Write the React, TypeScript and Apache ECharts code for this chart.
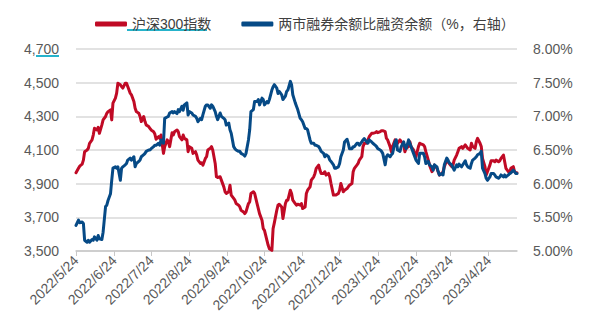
import React, { useEffect, useRef } from "react";
import * as echarts from "echarts";

const seriesNames = ["沪深300指数", "两市融券余额比融资余额（%，右轴）"];
const axisStart = "2022/5/24";
const axisEnd = "2023/5/17";
const leftTicks = [3500, 3700, 3900, 4100, 4300, 4500, 4700];
const rightTicks = [5, 5.5, 6, 6.5, 7, 7.5, 8];

const dates = [
  "2022/5/24", "2022/5/26", "2022/5/27", "2022/5/29", "2022/5/30", "2022/5/31",
  "2022/6/2", "2022/6/3", "2022/6/4", "2022/6/6", "2022/6/7", "2022/6/8", "2022/6/10", "2022/6/11", "2022/6/12", "2022/6/14", "2022/6/15", "2022/6/17", "2022/6/18", "2022/6/19", "2022/6/21", "2022/6/22", "2022/6/23", "2022/6/25", "2022/6/26", "2022/6/27", "2022/6/29", "2022/6/30",
  "2022/7/1", "2022/7/3", "2022/7/4", "2022/7/5", "2022/7/7", "2022/7/8", "2022/7/10", "2022/7/11", "2022/7/12", "2022/7/14", "2022/7/15", "2022/7/16", "2022/7/18", "2022/7/19", "2022/7/20", "2022/7/22", "2022/7/23", "2022/7/24", "2022/7/26", "2022/7/27", "2022/7/28", "2022/7/30", "2022/7/31",
  "2022/8/1", "2022/8/3", "2022/8/4", "2022/8/6", "2022/8/7", "2022/8/8", "2022/8/10", "2022/8/11", "2022/8/12", "2022/8/14", "2022/8/15", "2022/8/16", "2022/8/18", "2022/8/19", "2022/8/20", "2022/8/22", "2022/8/23", "2022/8/24", "2022/8/26", "2022/8/27", "2022/8/29", "2022/8/30", "2022/8/31",
  "2022/9/2", "2022/9/3", "2022/9/4", "2022/9/6", "2022/9/7", "2022/9/8", "2022/9/10", "2022/9/11", "2022/9/12", "2022/9/14", "2022/9/15", "2022/9/16", "2022/9/18", "2022/9/19", "2022/9/21", "2022/9/22", "2022/9/23", "2022/9/25", "2022/9/26", "2022/9/27", "2022/9/29", "2022/9/30",
  "2022/10/1", "2022/10/3", "2022/10/4", "2022/10/5", "2022/10/7", "2022/10/8", "2022/10/9", "2022/10/11", "2022/10/12", "2022/10/13", "2022/10/15", "2022/10/16", "2022/10/18", "2022/10/19", "2022/10/20", "2022/10/22", "2022/10/23", "2022/10/24", "2022/10/26", "2022/10/27", "2022/10/28", "2022/10/30", "2022/10/31",
  "2022/11/1", "2022/11/3", "2022/11/4", "2022/11/5", "2022/11/7", "2022/11/8", "2022/11/10", "2022/11/11", "2022/11/12", "2022/11/14", "2022/11/15", "2022/11/16", "2022/11/18", "2022/11/19", "2022/11/20", "2022/11/22", "2022/11/23", "2022/11/24", "2022/11/26", "2022/11/27", "2022/11/28", "2022/11/30",
  "2022/12/1", "2022/12/3", "2022/12/4", "2022/12/5", "2022/12/7", "2022/12/8", "2022/12/9", "2022/12/11", "2022/12/12", "2022/12/13", "2022/12/15", "2022/12/16", "2022/12/17", "2022/12/19", "2022/12/20", "2022/12/21", "2022/12/23", "2022/12/24", "2022/12/25", "2022/12/27", "2022/12/28", "2022/12/30", "2022/12/31",
  "2023/1/1", "2023/1/3", "2023/1/4", "2023/1/5", "2023/1/7", "2023/1/8", "2023/1/9", "2023/1/11", "2023/1/12", "2023/1/13", "2023/1/15", "2023/1/16", "2023/1/17", "2023/1/19", "2023/1/20", "2023/1/22", "2023/1/23", "2023/1/24", "2023/1/26", "2023/1/27", "2023/1/28", "2023/1/30", "2023/1/31",
  "2023/2/1", "2023/2/3", "2023/2/4", "2023/2/5", "2023/2/7", "2023/2/8", "2023/2/9", "2023/2/11", "2023/2/12", "2023/2/14", "2023/2/15", "2023/2/16", "2023/2/18", "2023/2/19", "2023/2/20", "2023/2/22", "2023/2/23", "2023/2/24", "2023/2/26", "2023/2/27", "2023/2/28",
  "2023/3/2", "2023/3/3", "2023/3/4", "2023/3/6", "2023/3/7", "2023/3/9", "2023/3/10", "2023/3/11", "2023/3/13", "2023/3/14", "2023/3/15", "2023/3/17", "2023/3/18", "2023/3/19", "2023/3/21", "2023/3/22", "2023/3/23", "2023/3/25", "2023/3/26", "2023/3/27", "2023/3/29", "2023/3/30", "2023/3/31",
  "2023/4/2", "2023/4/3", "2023/4/5", "2023/4/6", "2023/4/7", "2023/4/9", "2023/4/10", "2023/4/11", "2023/4/13", "2023/4/14", "2023/4/15", "2023/4/17", "2023/4/18", "2023/4/19", "2023/4/21", "2023/4/22", "2023/4/23", "2023/4/25", "2023/4/26", "2023/4/28", "2023/4/29", "2023/4/30",
  "2023/5/2", "2023/5/3", "2023/5/4", "2023/5/6", "2023/5/7", "2023/5/8", "2023/5/10", "2023/5/11", "2023/5/12", "2023/5/14", "2023/5/15", "2023/5/16", "2023/5/17",
];

const csi300 = [
  3965, 3991, 4004, 4016, 4040, 4090,
  4100, 4110, 4140, 4160, 4189, 4229, 4219, 4235, 4199, 4249, 4279, 4299, 4318, 4328, 4338, 4279, 4378, 4408, 4438, 4497, 4487, 4477,
  4468, 4497, 4497, 4477, 4438, 4428, 4388, 4348, 4328, 4318, 4299, 4269, 4299, 4269, 4249, 4239, 4229, 4219, 4209, 4195, 4164, 4179, 4169,
  4189, 4080, 4120, 4160, 4150, 4120, 4203, 4189, 4209, 4219, 4209, 4179, 4160, 4189, 4169, 4160, 4090, 4120, 4110, 4080, 4090, 4070, 4040,
  4020, 4024, 4010, 4050, 4060, 4100, 4110, 4120, 4100, 4020, 3941, 3937, 3941, 3921, 3881, 3852, 3842, 3852, 3891, 3832, 3812, 3802,
  3782, 3772, 3762, 3742, 3732, 3722, 3732, 3782, 3792, 3842, 3852, 3842, 3782, 3752, 3722, 3683, 3633, 3623, 3563, 3534, 3514, 3504, 3633,
  3667, 3742, 3772, 3778, 3762, 3693, 3782, 3802, 3802, 3861, 3842, 3802, 3782, 3772, 3778, 3772, 3782, 3752, 3762, 3842, 3861, 3881,
  3921, 3941, 3961, 3991, 4010, 3981, 3961, 3961, 3971, 3951, 3961, 3941, 3901, 3832, 3832, 3832, 3842, 3861, 3901, 3852, 3861, 3871, 3881,
  3891, 3901, 3971, 3991, 4010, 4020, 4040, 4060, 4120, 4140, 4140, 4160, 4179, 4199, 4199, 4203, 4209, 4203, 4209, 4215, 4215, 4209, 4169,
  4160, 4120, 4090, 4120, 4160, 4150, 4140, 4160, 4150, 4130, 4090, 4110, 4120, 4150, 4120, 4100, 4080, 4060, 4120, 4140, 4136,
  4130, 4120, 4090, 4040, 4010, 3971, 3991, 4010, 3991, 3971, 3951, 3961, 3971, 4001, 4040, 4030, 4020, 4001, 4010, 4040, 4070, 4090, 4110,
  4120, 4110, 4130, 4120, 4110, 4100, 4140, 4120, 4110, 4150, 4169, 4140, 4120, 4050, 4001, 3951, 3971, 4010, 4036, 4036, 4030, 4040,
  4030, 4036, 4050, 4070, 4030, 3991, 3971, 3961, 3991, 4001, 3971, 3965, 3965,
];

const ratio = [
  5.38, 5.46, 5.42, 5.43, 5.41, 5.16,
  5.13, 5.16, 5.13, 5.17, 5.16, 5.21, 5.16, 5.23, 5.18, 5.17, 5.28, 5.66, 5.68, 5.75, 5.85, 6.05, 6.23, 6.25, 6.23, 6.25, 6.05, 6.23,
  6.25, 6.28, 6.30, 6.35, 6.38, 6.35, 6.40, 6.25, 6.30, 6.33, 6.35, 6.40, 6.43, 6.45, 6.48, 6.50, 6.50, 6.52, 6.55, 6.57, 6.57, 6.60, 6.57,
  6.65, 6.60, 6.97, 6.99, 7.00, 7.05, 7.07, 7.05, 7.07, 7.04, 7.10, 7.07, 7.15, 7.09, 7.17, 7.20, 7.02, 7.07, 7.05, 7.02, 7.00, 6.97, 6.92,
  6.97, 6.95, 7.02, 7.15, 7.17, 7.17, 7.12, 7.17, 7.15, 7.07, 7.00, 6.95, 7.05, 7.00, 6.97, 6.95, 6.87, 6.90, 6.80, 6.75, 6.55, 6.52,
  6.50, 6.48, 6.48, 6.45, 6.43, 6.41, 6.45, 6.65, 6.80, 7.07, 7.10, 7.22, 7.22, 7.25, 7.17, 7.27, 7.25, 7.17, 7.22, 7.20, 7.25, 7.39, 7.44,
  7.47, 7.42, 7.34, 7.37, 7.32, 7.25, 7.30, 7.37, 7.39, 7.52, 7.47, 7.32, 7.20, 7.15, 7.10, 6.97, 6.95, 6.92, 6.82, 6.82, 6.80, 6.65,
  6.60, 6.60, 6.57, 6.57, 6.55, 6.52, 6.48, 6.45, 6.40, 6.43, 6.40, 6.35, 6.33, 6.28, 6.23, 6.23, 6.25, 6.30, 6.40, 6.50, 6.62, 6.66, 6.60,
  6.52, 6.52, 6.55, 6.55, 6.60, 6.60, 6.57, 6.62, 6.65, 6.67, 6.62, 6.60, 6.65, 6.62, 6.60, 6.57, 6.55, 6.52, 6.50, 6.48, 6.45, 6.28, 6.40,
  6.43, 6.40, 6.43, 6.45, 6.62, 6.65, 6.50, 6.48, 6.55, 6.62, 6.55, 6.52, 6.65, 6.60, 6.55, 6.45, 6.40, 6.35, 6.30, 6.45, 6.45,
  6.45, 6.40, 6.30, 6.33, 6.28, 6.25, 6.20, 6.28, 6.25, 6.18, 6.13, 6.15, 6.13, 6.28, 6.38, 6.35, 6.31, 6.28, 6.24, 6.20, 6.28, 6.25, 6.29,
  6.25, 6.28, 6.34, 6.28, 6.25, 6.23, 6.30, 6.35, 6.38, 6.40, 6.43, 6.45, 6.48, 6.23, 6.15, 6.08, 6.05, 6.10, 6.15, 6.15, 6.13, 6.10,
  6.08, 6.10, 6.13, 6.10, 6.13, 6.10, 6.13, 6.15, 6.16, 6.20, 6.18, 6.15, 6.15,
];

const RED = "#C00A25";
const BLUE = "#064A86";
const LABEL_FONT = "'Liberation Sans', Arial, sans-serif";
const LEGEND_FONT = "'Liberation Sans', 'Noto Sans CJK SC', sans-serif";

function buildDays(start: string, end: string): string[] {
  const [sy, sm, sd] = start.split("/").map(Number);
  const [ey, em, ed] = end.split("/").map(Number);
  const out: string[] = [];
  let t = Date.UTC(sy, sm - 1, sd);
  const tEnd = Date.UTC(ey, em - 1, ed);
  while (t <= tEnd) {
    const d = new Date(t);
    out.push(`${d.getUTCFullYear()}/${d.getUTCMonth() + 1}/${d.getUTCDate()}`);
    t += 86400000;
  }
  return out;
}

const isMonthTick = (_i: number, v: string) => v.split("/")[2] === "24";

export default function App() {
  const ref = useRef<HTMLDivElement>(null);
  useEffect(() => {
    if (!ref.current) return;
    const chart = echarts.init(ref.current, null, { renderer: "svg" });
    const days = buildDays(axisStart, axisEnd);
    const idx = new Map(days.map((d, i) => [d, i]));
    chart.setOption({
      animation: false,
      grid: { left: 76, right: 80, top: 49, bottom: 83, containLabel: false },
      legend: {
        data: seriesNames,
        left: 90,
        top: 12,
        icon: "roundRect",
        itemWidth: 32,
        itemHeight: 5,
        itemGap: 30,
        textStyle: { fontSize: 14, color: "#404040", fontFamily: LEGEND_FONT },
      },
      xAxis: {
        type: "category",
        data: days,
        boundaryGap: false,
        axisLine: { lineStyle: { color: "#c8c8c8", width: 1.5 } },
        axisTick: { interval: isMonthTick, length: 5, lineStyle: { color: "#c8c8c8", width: 1 } },
        axisLabel: {
          interval: isMonthTick,
          rotate: 45,
          margin: 7,
          color: "#595959",
          fontSize: 14,
          fontFamily: LABEL_FONT,
        },
        splitLine: { show: false },
      },
      yAxis: [
        {
          type: "value",
          min: leftTicks[0],
          max: leftTicks[leftTicks.length - 1],
          position: "left",
          axisLine: { show: false },
          axisTick: { show: false },
          splitLine: { show: false },
          axisLabel: {
            customValues: leftTicks,
            formatter: (v: number) => v.toLocaleString("en-US"),
            color: "#595959",
            fontSize: 14,
            margin: 17,
            fontFamily: LABEL_FONT,
          },
        },
        {
          type: "value",
          min: rightTicks[0],
          max: rightTicks[rightTicks.length - 1],
          interval: 0.5,
          position: "right",
          axisLine: { show: false },
          axisTick: { show: false },
          splitLine: { show: true, lineStyle: { color: "#d9d9d9", width: 1.5 } },
          axisLabel: {
            formatter: (v: number) => v.toFixed(2) + "%",
            color: "#595959",
            fontSize: 14,
            margin: 16,
            fontFamily: LABEL_FONT,
          },
        },
      ],
      graphic: [
        { type: "rect", left: 127, top: 29, shape: { width: 80, height: 2 }, style: { fill: "#26B3CB" }, silent: true },
        { type: "rect", left: 36, top: 55, shape: { width: 23, height: 2 }, style: { fill: "#26B3CB" }, silent: true },
      ],
      series: [
        {
          name: seriesNames[0],
          type: "line",
          yAxisIndex: 0,
          data: dates.map((d, i) => [idx.get(d), csi300[i]]),
          showSymbol: false,
          symbol: "none",
          lineStyle: { color: RED, width: 3, join: "round", cap: "round" },
          itemStyle: { color: RED },
          z: 2,
        },
        {
          name: seriesNames[1],
          type: "line",
          yAxisIndex: 1,
          data: dates.map((d, i) => [idx.get(d), ratio[i]]),
          showSymbol: false,
          symbol: "none",
          lineStyle: { color: BLUE, width: 3, join: "round", cap: "round" },
          itemStyle: { color: BLUE },
          z: 3,
        },
      ],
    });
    return () => chart.dispose();
  }, []);
  return (
    <div
      ref={ref}
      style={{ position: "absolute", left: 0, top: 0, width: 597, height: 334 }}
    />
  );
}
